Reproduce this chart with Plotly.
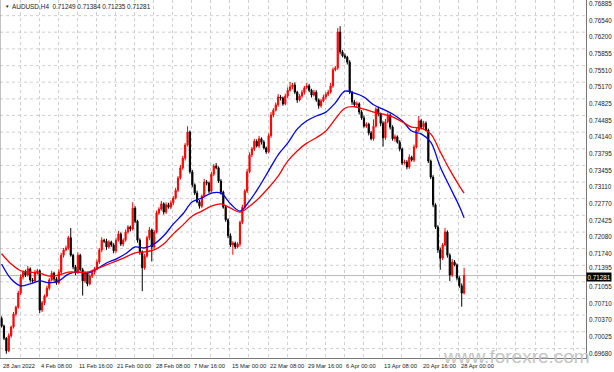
import plotly.graph_objects as go

# ---------------- data ----------------
symbol_header = "AUDUSD,H4  0.71249 0.71384 0.71235 0.71281"
first_open = 0.7040
closes = [
    0.7024, 0.6999, 0.6973, 0.7004, 0.7022, 0.7049, 0.7063, 0.7092, 0.7125, 0.7135,
    0.7129, 0.7142, 0.7119, 0.7117, 0.7135, 0.7138, 0.7057, 0.7072, 0.7086, 0.7102,
    0.7119, 0.7133, 0.7121, 0.7113, 0.7135, 0.7170, 0.7181, 0.7185, 0.7206, 0.7170,
    0.7146, 0.7135, 0.7170, 0.7140, 0.7117, 0.7133, 0.7111, 0.7127, 0.7135, 0.7142,
    0.7156, 0.7181, 0.7201, 0.7199, 0.7187, 0.7197, 0.7191, 0.7179, 0.7201, 0.7214,
    0.7193, 0.7201, 0.7218, 0.7228, 0.7224, 0.7267, 0.7240, 0.7201, 0.7177, 0.7144,
    0.7168, 0.7206, 0.7222, 0.7187, 0.7218, 0.7257, 0.7265, 0.7276, 0.7259, 0.7274,
    0.7269, 0.7278, 0.7288, 0.7304, 0.7329, 0.7350, 0.7370, 0.7397, 0.7424, 0.7342,
    0.7315, 0.7298, 0.7280, 0.7271, 0.7292, 0.7321, 0.7319, 0.7302, 0.7337, 0.7354,
    0.7350, 0.7323, 0.7300, 0.7269, 0.7243, 0.7210, 0.7191, 0.7195, 0.7187, 0.7193,
    0.7238, 0.7269, 0.7302, 0.7342, 0.7377, 0.7389, 0.7405, 0.7395, 0.7410, 0.7403,
    0.7391, 0.7383, 0.7416, 0.7459, 0.7469, 0.7480, 0.7496, 0.7494, 0.7482, 0.7498,
    0.7510, 0.7517, 0.7521, 0.7506, 0.7490, 0.7498, 0.7506, 0.7515, 0.7519, 0.7510,
    0.7500, 0.7506, 0.7490, 0.7478, 0.7488, 0.7496, 0.7502, 0.7506, 0.7519, 0.7552,
    0.7556, 0.7630, 0.7589, 0.7581, 0.7578, 0.7568, 0.7506, 0.7486, 0.7480, 0.7482,
    0.7465, 0.7453, 0.7436, 0.7440, 0.7422, 0.7410, 0.7436, 0.7471, 0.7461, 0.7442,
    0.7412, 0.7445, 0.7459, 0.7434, 0.7410, 0.7414, 0.7403, 0.7389, 0.7360, 0.7362,
    0.7352, 0.7372, 0.7366, 0.7393, 0.7428, 0.7447, 0.7434, 0.7442, 0.7428, 0.7364,
    0.7331, 0.7274, 0.7228, 0.7181, 0.7164, 0.7191, 0.7218, 0.7170, 0.7129, 0.7156,
    0.7150, 0.7123, 0.7107, 0.7092, 0.7128,
]
# wick lengths beyond the body, in pips (0.0001)
wick_up = [
    4, 3, 2, 5, 3, 4, 3, 5, 6, 4,  5, 6, 3, 4, 5, 4, 3, 4, 3, 5,
    4, 5, 3, 4, 6, 5, 4, 5, 4, 20,  3, 4, 6, 3, 4, 5, 3, 4, 5, 4,
    5, 4, 6, 3, 5, 4, 3, 4, 5, 6,  3, 4, 5, 4, 3, 12, 4, 3, 4, 3,
    5, 4, 6, 3, 4, 5, 4, 6, 3, 5,  4, 5, 4, 5, 4, 6, 5, 4, 12, 3,
    4, 3, 5, 4, 3, 6, 4, 3, 5, 4,  6, 3, 4, 3, 4, 3, 5, 4, 3, 4,
    3, 5, 4, 6, 5, 4, 5, 4, 6, 3,  4, 3, 5, 6, 4, 5, 6, 4, 3, 5,
    6, 10, 4, 5, 3, 4, 5, 4, 6, 4,  3, 5, 4, 3, 4, 5, 4, 5, 6, 5,
    4, 8, 12, 4, 5, 3, 4, 3, 4, 5,  3, 4, 5, 4, 3, 4, 14, 4, 5, 3,
    4, 6, 5, 3, 4, 5, 3, 4, 3, 5,  4, 6, 3, 5, 6, 10, 4, 5, 4, 3,
    3, 4, 3, 4, 5, 4, 8, 3, 4, 6,  4, 3, 4, 5, 16,
]
wick_dn = [
    3, 4, 6, 3, 4, 3, 5, 3, 4, 5,  4, 3, 5, 4, 3, 5, 6, 4, 5, 3,
    4, 3, 5, 4, 3, 4, 5, 3, 4, 3,  5, 6, 4, 3, 30, 4, 5, 3, 4, 5,
    3, 4, 5, 4, 6, 3, 4, 5, 4, 3,  4, 5, 3, 4, 5, 3, 4, 5, 6, 48,
    4, 3, 5, 30, 4, 3, 4, 3, 5, 4,  3, 4, 5, 3, 4, 3, 4, 5, 3, 4,
    5, 4, 3, 5, 4, 3, 5, 4, 3, 4,  3, 4, 5, 3, 4, 5, 4, 20, 4, 3,
    5, 4, 3, 4, 3, 5, 4, 3, 4, 5,  3, 4, 3, 4, 5, 3, 4, 5, 4, 3,
    4, 3, 5, 4, 6, 3, 4, 5, 3, 4,  5, 3, 4, 6, 4, 3, 5, 4, 3, 4,
    3, 4, 5, 3, 4, 5, 4, 6, 3, 4,  5, 4, 3, 4, 5, 3, 4, 3, 5, 6,
    18, 4, 3, 5, 4, 6, 3, 5, 4, 3,  5, 4, 3, 4, 3, 4, 5, 4, 3, 4,
    4, 5, 4, 6, 24, 4, 3, 5, 12, 4,  3, 5, 4, 28, 3,
]
# moving averages sampled every 4 candles (last one at candle 194)
ma_idx = list(range(0, 193, 4)) + [194]
blue_ma = [
    0.7152, 0.7121, 0.7107, 0.7111, 0.7117, 0.7113, 0.7117, 0.7131, 0.7135, 0.7133,
    0.7142, 0.7154, 0.7162, 0.7173, 0.7187, 0.7185, 0.7193, 0.7210, 0.7234, 0.7255,
    0.7280, 0.7288, 0.7298, 0.7298, 0.7276, 0.7261, 0.7282, 0.7311, 0.7344, 0.7377,
    0.7401, 0.7430, 0.7447, 0.7457, 0.7465, 0.7484, 0.7508, 0.7504, 0.7496, 0.7480,
    0.7471, 0.7461, 0.7447, 0.7426, 0.7420, 0.7403, 0.7352, 0.7311, 0.7271, 0.7247,
]
red_ma = [
    0.7173, 0.7152, 0.7138, 0.7135, 0.7133, 0.7127, 0.7129, 0.7135, 0.7135, 0.7135,
    0.7142, 0.7150, 0.7158, 0.7166, 0.7175, 0.7177, 0.7181, 0.7193, 0.7214, 0.7232,
    0.7251, 0.7261, 0.7271, 0.7276, 0.7267, 0.7259, 0.7271, 0.7288, 0.7309, 0.7333,
    0.7364, 0.7385, 0.7401, 0.7412, 0.7426, 0.7451, 0.7473, 0.7476, 0.7471, 0.7465,
    0.7461, 0.7455, 0.7445, 0.7434, 0.7432, 0.7420, 0.7383, 0.7346, 0.7313, 0.7298,
]
price_ticks = [0.76885, 0.76540, 0.76200, 0.75855, 0.75510, 0.75170, 0.74825, 0.74485,
               0.74140, 0.73795, 0.73455, 0.73110, 0.72770, 0.72425, 0.72080, 0.71740,
               0.71395, 0.71055, 0.70710, 0.70370, 0.70025, 0.69680]
date_labels = ["28 Jan 2022", "4 Feb 08:00", "11 Feb 16:00", "21 Feb 00:00", "28 Feb 08:00",
               "7 Mar 16:00", "15 Mar 00:00", "22 Mar 08:00", "29 Mar 16:00", "6 Apr 00:00",
               "13 Apr 08:00", "20 Apr 16:00", "28 Apr 00:00"]
last_price = 0.71281
watermark = "www.forexre.com"

# ---------------- build ----------------
n = len(closes)
idx = list(range(n))
opens = [first_open] + closes[:-1]
highs = [max(o, c) + u * 1e-4 for o, c, u in zip(opens, closes, wick_up)]
lows = [min(o, c) - d * 1e-4 for o, c, d in zip(opens, closes, wick_dn)]

fig = go.Figure()
fig.add_trace(go.Candlestick(
    x=idx, open=opens, high=highs, low=lows, close=closes,
    increasing=dict(line=dict(color="#ff0000", width=1), fillcolor="#ff0000"),
    decreasing=dict(line=dict(color="#000000", width=1), fillcolor="#000000"),
    whiskerwidth=0, hoverinfo="skip", showlegend=False,
))
fig.add_trace(go.Scatter(x=ma_idx, y=blue_ma, mode="lines", line=dict(color="#0000ee", width=1.3, shape="spline"),
                         hoverinfo="skip", showlegend=False))
fig.add_trace(go.Scatter(x=ma_idx, y=red_ma, mode="lines", line=dict(color="#ff0000", width=1.3, shape="spline"),
                         hoverinfo="skip", showlegend=False))

FONT = "Liberation Sans, Arial, sans-serif"
PLOT_H = 358
grid_x = [8 * k - 0.25 for k in range(0, 32)]

shapes = []
for v in price_ticks:
    gy = v + 0.00097
    if gy < 0.7696:
        shapes.append(dict(type="line", xref="paper", x0=0, x1=1, yref="y", y0=gy, y1=gy,
                           line=dict(color="#cfcfcf", width=1, dash="dot"), layer="below"))
shapes.append(dict(type="line", xref="paper", x0=0, x1=1, yref="y", y0=last_price, y1=last_price,
                   line=dict(color="#b8b8b8", width=1), layer="below"))
shapes.append(dict(type="line", xref="paper", x0=0, x1=0, yref="paper", y0=0, y1=1,
                   line=dict(color="#888888", width=1)))

annotations = []
# watermark first so the date labels are drawn over it
annotations.append(dict(x=441 / 586, xref="paper", y=(PLOT_H - 356) / PLOT_H, yref="paper", text=watermark,
                        showarrow=False, xanchor="left", yanchor="middle",
                        font=dict(size=19, color="#c4c4c4", family=FONT)))
for k, lab in enumerate(date_labels):
    annotations.append(dict(x=16 * k - 0.25, xref="x", y=-(365.5 - PLOT_H) / PLOT_H, yref="paper",
                            text=lab, showarrow=False, xanchor="left", yanchor="middle",
                            font=dict(size=5.8, color="#222222", family=FONT)))
for v in price_ticks:
    # the label just above the current-price box is nudged up, as the terminal does
    shift = 3 if abs(v - last_price) < 0.0015 else 0
    annotations.append(dict(x=1, xref="paper", xshift=1, y=v, yref="y", yshift=shift, text=f"{v:.5f}",
                            showarrow=False, xanchor="left", yanchor="middle",
                            font=dict(size=6.3, color="#222222", family=FONT)))
annotations.append(dict(x=1, xref="paper", xshift=0, y=last_price, yref="y", yshift=-1, text="0.71281",
                        showarrow=False, xanchor="left", yanchor="middle", bgcolor="#000000",
                        borderpad=0.5, font=dict(size=6.3, color="#ffffff", family=FONT)))
annotations.append(dict(x=3 / 586, xref="paper", y=(PLOT_H - 7) / PLOT_H, yref="paper", text="▼",
                        showarrow=False, xanchor="left", yanchor="middle",
                        font=dict(size=4.5, color="#222222", family=FONT)))
annotations.append(dict(x=10 / 586, xref="paper", y=(PLOT_H - 7) / PLOT_H, yref="paper", text=symbol_header,
                        showarrow=False, xanchor="left", yanchor="middle",
                        font=dict(size=6.4, color="#222222", family=FONT)))

fig.update_layout(
    width=614, height=372,
    margin=dict(l=0, r=28, t=0, b=14),
    paper_bgcolor="#ffffff", plot_bgcolor="#ffffff",
    font=dict(family=FONT),
    shapes=shapes, annotations=annotations,
    xaxis=dict(range=[-0.671, 245.13], tickvals=grid_x, showticklabels=False, ticks="",
               showgrid=True, gridcolor="#cfcfcf", griddash="dot", gridwidth=1,
               showline=True, linecolor="#777777", linewidth=1, zeroline=False,
               rangeslider=dict(visible=False), fixedrange=True),
    yaxis=dict(range=[0.69582, 0.7696], side="right", showticklabels=False, ticks="", showgrid=False,
               showline=True, linecolor="#777777", linewidth=1, zeroline=False, fixedrange=True),
)

fig.write_html("out.html", config={"displayModeBar": False})
